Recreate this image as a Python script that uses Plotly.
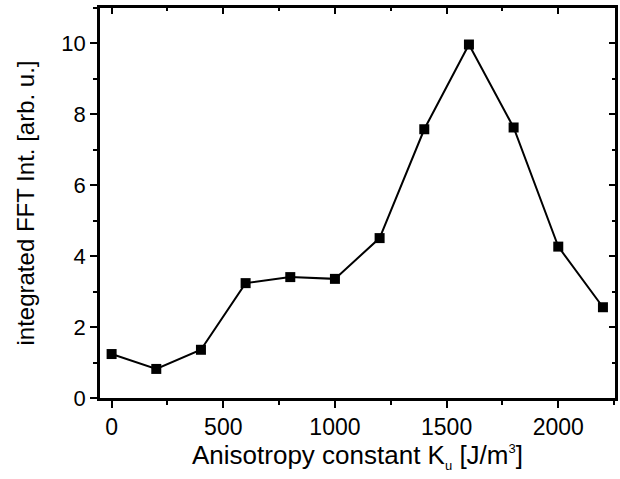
import plotly.graph_objects as go

ku = [0, 200, 400, 600, 800, 1000, 1200, 1400, 1600, 1800, 2000, 2200]
fft_int = [1.24, 0.82, 1.36, 3.24, 3.41, 3.36, 4.51, 7.58, 9.97, 7.63, 4.27, 2.56]

x_major = [0, 500, 1000, 1500, 2000]
x_minor = [250, 750, 1250, 1750, 2250]
y_major = [0, 2, 4, 6, 8, 10]
y_minor = [1, 3, 5, 7, 9, 11]

x_range = [-52, 2254]
y_range = [0, 11]
font = "Liberation Sans, Arial, sans-serif"

fig = go.Figure()
fig.add_trace(go.Scatter(
    x=ku, y=fft_int, mode="lines+markers",
    line=dict(color="black", width=2),
    marker=dict(symbol="square", size=10, color="black"),
    showlegend=False, cliponaxis=False))
fig.add_trace(go.Scatter(x=[None], y=[None], xaxis="x2", yaxis="y2",
                         showlegend=False, hoverinfo="skip"))

common = dict(showline=True, linecolor="black", linewidth=2.5, showgrid=False,
              zeroline=False, tickcolor="black", tickwidth=2)

x_title = ("Anisotropy constant K<sub><span style='font-size:13px'>u</span></sub> "
           "[J/m<sup><span style='font-size:13px'>3</span></sup>]")

fig.update_layout(
    width=620, height=479,
    margin=dict(l=100, r=5, t=8, b=81),
    plot_bgcolor="white", paper_bgcolor="white",
    font=dict(family=font, size=22, color="black"),
    xaxis=dict(range=x_range, tickvals=x_major,
               ticks="outside", ticklen=7,
               minor=dict(tickvals=x_minor, ticks="outside",
                          ticklen=4, tickwidth=2, tickcolor="black"),
               title=dict(text=x_title, font=dict(size=26), standoff=6),
               tickfont=dict(size=23), **common),
    yaxis=dict(range=y_range, tickvals=y_major,
               ticks="outside", ticklen=7,
               minor=dict(tickvals=y_minor, ticks="outside",
                          ticklen=4, tickwidth=2, tickcolor="black"),
               title=dict(text="integrated FFT Int. [arb. u.]",
                          font=dict(size=24), standoff=20),
               tickfont=dict(size=22), **common),
    xaxis2=dict(range=x_range, overlaying="x", side="top", showticklabels=False,
                tickvals=x_major, ticks="inside", ticklen=6,
                minor=dict(tickvals=x_minor, ticks="inside",
                           ticklen=3, tickwidth=2, tickcolor="black"),
                **common),
    yaxis2=dict(range=y_range, overlaying="y", side="right", showticklabels=False,
                tickvals=y_major, ticks="inside", ticklen=6,
                minor=dict(tickvals=y_minor, ticks="inside",
                           ticklen=3, tickwidth=2, tickcolor="black"),
                **common),
)

fig.write_html("out.html")
